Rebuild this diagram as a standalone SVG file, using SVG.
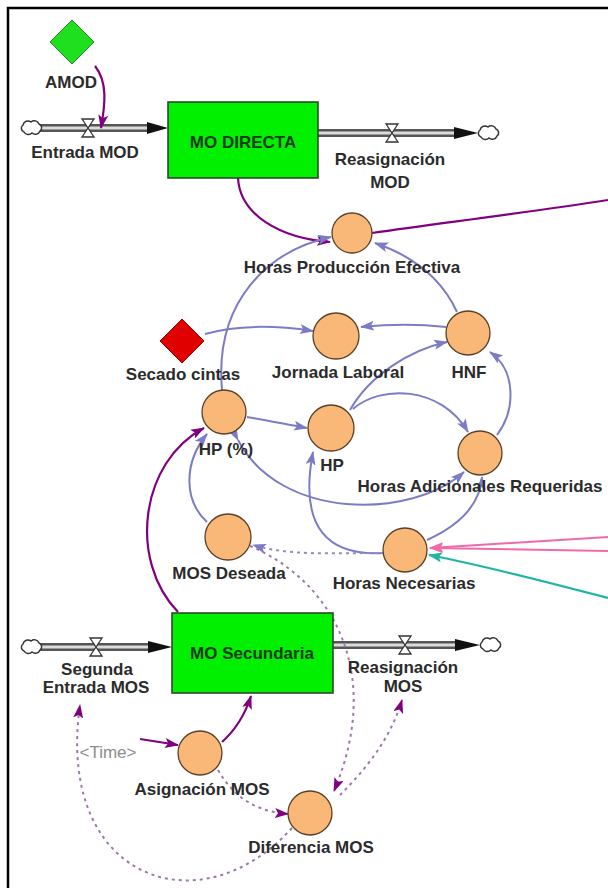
<svg xmlns="http://www.w3.org/2000/svg" width="608" height="888" viewBox="0 0 608 888">
<style>
.lbl{font-family:"Liberation Sans",Arial,sans-serif;font-size:17px;font-weight:bold;fill:#2b2b2b;text-anchor:middle}
.tim{font-family:"Liberation Sans",Arial,sans-serif;font-size:17px;fill:#8c8c8c;text-anchor:middle}
.aux{fill:#f9b877;stroke:#5a4028;stroke-width:1.3}
.lvl{fill:#00f000;stroke:#2c4a2c;stroke-width:1.6}
.cb{fill:none;stroke:#7c7cc6;stroke-width:2}
.cp{fill:none;stroke:#800080;stroke-width:2.2}
.ck{fill:none;stroke:#f06aaa;stroke-width:2}
.ct{fill:none;stroke:#1fb5a5;stroke-width:2.2}
.cd{fill:none;stroke:#9c7aa8;stroke-width:2;stroke-dasharray:3 4}
.cdb{fill:none;stroke:#8e8eb8;stroke-width:2;stroke-dasharray:3 4}
.po{stroke:#555;stroke-width:8}
.pi{stroke:#dcdcdc;stroke-width:3}
.valve{fill:#fff;stroke:#333;stroke-width:1.3}
.cloud{fill:#fff;stroke:#333;stroke-width:1.5}
</style>
<defs>
<marker id="ab" viewBox="0 0 14 10" refX="13" refY="5" markerWidth="14" markerHeight="10" markerUnits="userSpaceOnUse" orient="auto"><path d="M0,0 L14,5 L0,10 L3,5 Z" fill="#7c7cc6"/></marker>
<marker id="ap" viewBox="0 0 14 10" refX="13" refY="5" markerWidth="14" markerHeight="10" markerUnits="userSpaceOnUse" orient="auto"><path d="M0,0 L14,5 L0,10 L3,5 Z" fill="#800080"/></marker>
<marker id="ak" viewBox="0 0 14 10" refX="13" refY="5" markerWidth="14" markerHeight="10" markerUnits="userSpaceOnUse" orient="auto"><path d="M0,0 L14,5 L0,10 L3,5 Z" fill="#f06aaa"/></marker>
<marker id="at" viewBox="0 0 14 10" refX="13" refY="5" markerWidth="14" markerHeight="10" markerUnits="userSpaceOnUse" orient="auto"><path d="M0,0 L14,5 L0,10 L3,5 Z" fill="#1fb5a5"/></marker>
<path id="cloudShape" d="M-8,4 a4,4 0 0 1 -1,-7 a5,5 0 0 1 8,-3 a5,5 0 0 1 8,2 a4,4 0 0 1 1,7 a5,5 0 0 1 -8,2 a5,5 0 0 1 -8,-1 z"/>
<path id="valveShape" d="M-6,-9 H6 L-6,9 H6 Z"/>
</defs>

<rect width="608" height="888" fill="#fff"/>
<path d="M8,888 V8 H608" fill="none" stroke="#000" stroke-width="2.5"/>

<!-- flow pipes -->
<g id="flows">
  <line class="po" x1="40" y1="128" x2="150" y2="128"/><line class="pi" x1="40" y1="128" x2="150" y2="128"/>
  <path d="M147,122 L168,128 L147,134 Z" fill="#111"/>
  <line class="po" x1="318" y1="133" x2="456" y2="133"/><line class="pi" x1="318" y1="133" x2="456" y2="133"/>
  <path d="M454,127 L478,133 L454,139 Z" fill="#111"/>
  <line class="po" x1="40" y1="647" x2="150" y2="647"/><line class="pi" x1="40" y1="647" x2="150" y2="647"/>
  <path d="M148,641 L172,647 L148,653 Z" fill="#111"/>
  <line class="po" x1="333" y1="645" x2="457" y2="645"/><line class="pi" x1="333" y1="645" x2="457" y2="645"/>
  <path d="M455,639 L480,645 L455,651 Z" fill="#111"/>
</g>

<g id="connectors">
  <!-- purple solid -->
  <path class="cp" d="M95,66 C108,82 105,105 101,128" marker-end="url(#ap)"/>
  <path class="cp" d="M238,178 C240,215 280,238 330,242" marker-end="url(#ap)"/>
  <path class="cp" d="M372,233 C450,222 530,212 608,200"/>
  <path class="cp" d="M178,612 C128,560 140,462 204,428" marker-end="url(#ap)"/>
  <path class="cp" d="M140,739 L178,745" marker-end="url(#ap)"/>
  <path class="cp" d="M222,742 Q242,724 251,696" marker-end="url(#ap)"/>
  <!-- blue solid -->
  <path class="cb" d="M222,390 C214,300 270,250 331,237" marker-end="url(#ab)"/>
  <path class="cb" d="M457,312 C440,275 410,255 375,243" marker-end="url(#ab)"/>
  <path class="cb" d="M205,334 C240,324 280,326 313,331" marker-end="url(#ab)"/>
  <path class="cb" d="M446,327 C420,324 390,324 361,327" marker-end="url(#ab)"/>
  <path class="cb" d="M350,410 C370,375 410,350 447,342" marker-end="url(#ab)"/>
  <path class="cb" d="M497,435 C516,410 516,370 490,352" marker-end="url(#ab)"/>
  <path class="cb" d="M353,409 C380,385 440,385 468,432" marker-end="url(#ab)"/>
  <path class="cb" d="M247,417 C265,420 285,424 307,428" marker-end="url(#ab)"/>
  <path class="cb" d="M238,440 C280,520 410,520 464,472" marker-start="url(#ab)" marker-end="url(#ab)"/>
  <path class="cb" d="M383,553 C330,556 298,530 313,452" marker-end="url(#ab)"/>
  <path class="cb" d="M427,540 C460,525 480,505 482,477" marker-end="url(#ab)"/>
  <path class="cb" d="M207,522 C183,500 184,462 207,434" marker-end="url(#ab)"/>
  <!-- pink and teal links from the right -->
  <path class="ck" d="M608,537 L430,548" marker-end="url(#ak)"/>
  <path class="ck" d="M608,551 L430,548" marker-end="url(#ak)"/>
  <path class="ct" d="M608,598 C540,580 480,565 429,555" marker-end="url(#at)"/>
  <!-- dashed links -->
  <path class="cdb" d="M384,553 C330,553 290,556 253,545" marker-end="url(#ab)"/>
  <path class="cd" d="M250,546 C330,580 385,670 334,791" marker-end="url(#ap)"/>
  <path class="cd" d="M340,795 C365,770 390,740 402,700" marker-end="url(#ap)"/>
  <path class="cd" d="M218,770 C235,800 260,812 288,814" marker-end="url(#ap)"/>
  <path class="cd" d="M292,828 C200,930 55,880 80,705" marker-end="url(#ap)"/>
</g>

<g id="cloud-1"><use href="#cloudShape" class="cloud" transform="translate(32,128)"/></g>
<g id="cloud-2"><use href="#cloudShape" class="cloud" transform="translate(489,133)"/></g>
<g id="cloud-3"><use href="#cloudShape" class="cloud" transform="translate(32,647)"/></g>
<g id="cloud-4"><use href="#cloudShape" class="cloud" transform="translate(491,645)"/></g>

<g id="amod">
  <path d="M72,20 L94,42 L72,64 L50,42 Z" fill="#1ee01e" stroke="#2a8a2a" stroke-width="1"/>
  <text class="lbl" x="71" y="88">AMOD</text>
</g>
<g id="entrada-mod">
  <use href="#valveShape" class="valve" transform="translate(88,128)"/>
  <text class="lbl" x="85" y="158">Entrada MOD</text>
</g>
<g id="mo-directa">
  <rect class="lvl" x="168" y="102" width="150" height="76"/>
  <text class="lbl" x="243" y="148" style="fill:#1c3a1c">MO DIRECTA</text>
</g>
<g id="reasignacion-mod">
  <use href="#valveShape" class="valve" transform="translate(392,133)"/>
  <text class="lbl" x="390" y="165">Reasignación</text>
  <text class="lbl" x="390" y="188">MOD</text>
</g>
<g id="horas-produccion-efectiva">
  <circle class="aux" cx="352" cy="233" r="20"/>
  <text class="lbl" x="352" y="273">Horas Producción Efectiva</text>
</g>
<g id="secado-cintas">
  <path d="M182,319 L204,341 L182,363 L160,341 Z" fill="#e00000" stroke="#900" stroke-width="1"/>
  <text class="lbl" x="183" y="380">Secado cintas</text>
</g>
<g id="jornada-laboral">
  <circle class="aux" cx="336" cy="336" r="23"/>
  <text class="lbl" x="338" y="378">Jornada Laboral</text>
</g>
<g id="hnf">
  <circle class="aux" cx="468" cy="333" r="22"/>
  <text class="lbl" x="469" y="378">HNF</text>
</g>
<g id="hp-pct">
  <circle class="aux" cx="224" cy="412" r="22"/>
  <text class="lbl" x="226" y="455">HP (%)</text>
</g>
<g id="hp">
  <circle class="aux" cx="331" cy="428" r="23"/>
  <text class="lbl" x="332" y="471">HP</text>
</g>
<g id="horas-adicionales-requeridas">
  <circle class="aux" cx="480" cy="453" r="22"/>
  <text class="lbl" x="480" y="492">Horas Adicionales Requeridas</text>
</g>
<g id="mos-deseada">
  <circle class="aux" cx="228" cy="537" r="23"/>
  <text class="lbl" x="229" y="579">MOS Deseada</text>
</g>
<g id="horas-necesarias">
  <circle class="aux" cx="405" cy="550" r="22"/>
  <text class="lbl" x="404" y="589">Horas Necesarias</text>
</g>
<g id="segunda-entrada-mos">
  <use href="#valveShape" class="valve" transform="translate(96,647)"/>
  <text class="lbl" x="97" y="675">Segunda</text>
  <text class="lbl" x="96" y="693">Entrada MOS</text>
</g>
<g id="mo-secundaria">
  <rect class="lvl" x="172" y="613" width="161" height="80"/>
  <text class="lbl" x="252" y="659" style="fill:#1c3a1c">MO Secundaria</text>
</g>
<g id="reasignacion-mos">
  <use href="#valveShape" class="valve" transform="translate(405,645)"/>
  <text class="lbl" x="403" y="673">Reasignación</text>
  <text class="lbl" x="403" y="692">MOS</text>
</g>
<g id="time">
  <text class="tim" x="108" y="758">&lt;Time&gt;</text>
</g>
<g id="asignacion-mos">
  <circle class="aux" cx="200" cy="753" r="22"/>
  <text class="lbl" x="202" y="795">Asignación MOS</text>
</g>
<g id="diferencia-mos">
  <circle class="aux" cx="310" cy="813" r="22"/>
  <text class="lbl" x="311" y="853">Diferencia MOS</text>
</g>
</svg>
